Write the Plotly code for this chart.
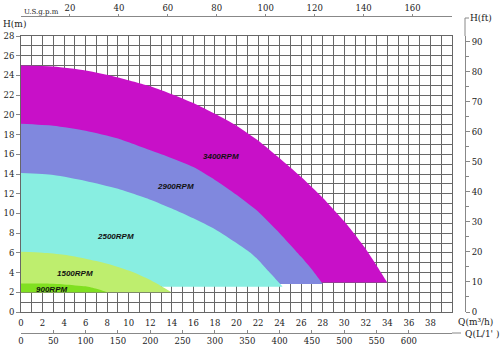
import plotly.graph_objects as go

# Pump performance: head H (m) vs flow Q (m3/h) for each speed
q_3400 = [0, 3, 6, 9, 12, 14, 16, 18, 20, 22, 24, 26, 28, 30, 32, 34]
h_3400 = [25.0, 24.9, 24.5, 23.8, 22.9, 22.1, 21.2, 20.1, 18.9, 17.4, 15.6, 13.7, 11.6, 9.2, 6.4, 3.0]

q_2900 = [0, 3, 6, 9, 12, 14, 16, 18, 20, 22, 24, 26, 27, 28]
h_2900 = [19.1, 18.9, 18.4, 17.6, 16.4, 15.6, 14.7, 13.4, 11.9, 10.2, 8.0, 5.6, 4.3, 2.85]

q_2500 = [0, 3, 6, 9, 12, 14, 16, 18, 20, 21.3, 22, 23, 24.3]
h_2500 = [14.1, 13.9, 13.3, 12.5, 11.4, 10.5, 9.5, 8.4, 7.0, 6.0, 5.3, 4.1, 2.55]

q_1500 = [0, 2, 4, 6, 8, 10, 12, 14]
h_1500 = [6.1, 6.0, 5.8, 5.4, 4.9, 4.2, 3.25, 2.0]

q_900 = [0, 2, 4, 6, 7, 8]
h_900 = [2.9, 2.88, 2.8, 2.6, 2.35, 2.0]

speeds = ["3400RPM", "2900RPM", "2500RPM", "1500RPM", "900RPM"]
base_heads = [3.0, 2.85, 2.55, 2.0, 2.0]
fill_colors = ["#C810C8", "#8088DE", "#88EEE1", "#BEEE6E", "#80E020"]
label_pos = [(18.6, 15.8), (14.3, 12.7), (8.8, 7.7), (5.0, 3.95), (2.8, 2.3)]

q_ticks = list(range(0, 40, 2))
h_ticks = list(range(0, 30, 2))
gpm_ticks = list(range(20, 180, 20))
lpm_ticks = list(range(0, 650, 50))
ft_ticks = list(range(0, 100, 10))

Q_MAX, H_MAX = 40, 28
GPM_PER_M3H = 4.4029
LPM_PER_M3H = 16.6667
FT_PER_M = 3.28084

W, H = 500, 350
def px(x):
    return x / W
def py(y):
    return (H - y) / H

x_dom = [px(21), px(452)]
y_dom = [py(312), py(36)]

grid_col = "#676767"
axis_col = "#888888"
txt_col = "#222222"
tick_font = dict(family="DejaVu Serif", size=8.5, color=txt_col)

fig = go.Figure()

curves = [(q_3400, h_3400), (q_2900, h_2900), (q_2500, h_2500), (q_1500, h_1500), (q_900, h_900)]
for (qs, hs), base, col, name in zip(curves, base_heads, fill_colors, speeds):
    # smooth head curve, then straight return along the minimum head
    fig.add_trace(go.Scatter(
        x=qs + [qs[-1], qs[-1] * 0.5, 0], y=hs + [base, base, base],
        fill="toself", fillcolor=col, mode="lines",
        line=dict(width=0, color=col, shape="spline", smoothing=0.6),
        name=name, hoverinfo="skip", showlegend=False))

for name, (lq, lh) in zip(speeds, label_pos):
    fig.add_annotation(x=lq, y=lh, xref="x", yref="y", text=f"<b><i>{name}</i></b>",
                       showarrow=False, font=dict(family="Liberation Sans", size=8, color="#111"))

# helper traces so the secondary axes are drawn
fig.add_trace(go.Scatter(x=[], y=[], xaxis="x2", yaxis="y", showlegend=False))
fig.add_trace(go.Scatter(x=[], y=[], xaxis="x3", yaxis="y", showlegend=False))
fig.add_trace(go.Scatter(x=[], y=[], xaxis="x", yaxis="y2", showlegend=False))

fig.update_layout(
    width=W, height=H,
    margin=dict(l=0, r=0, t=0, b=0),
    paper_bgcolor="white", plot_bgcolor="white",
    showlegend=False,
    xaxis=dict(domain=x_dom, range=[0, Q_MAX], tickmode="array", tickvals=q_ticks,
               showgrid=True, gridcolor=grid_col, gridwidth=1,
               minor=dict(dtick=1, tick0=0, showgrid=True, gridcolor=grid_col, gridwidth=1),
               showline=True, linecolor=grid_col, mirror=True, zeroline=False,
               ticks="", tickfont=tick_font, ticklabelstandoff=3, automargin=False),
    yaxis=dict(domain=y_dom, range=[0, H_MAX], tickmode="array", tickvals=h_ticks,
               showgrid=True, gridcolor=grid_col, gridwidth=1,
               minor=dict(dtick=1, tick0=0, showgrid=True, gridcolor=grid_col, gridwidth=1),
               showline=True, linecolor=grid_col, mirror=True, zeroline=False,
               ticks="outside", ticklen=4, tickcolor=axis_col, tickfont=tick_font,
               automargin=False),
    xaxis2=dict(overlaying="x", side="top", anchor="free", position=py(16),
                range=[0, Q_MAX * GPM_PER_M3H], tickmode="array", tickvals=gpm_ticks,
                showgrid=False, zeroline=False, showline=True, linecolor=axis_col,
                ticks="outside", ticklen=2, tickcolor=axis_col, tickfont=tick_font,
                automargin=False),
    xaxis3=dict(overlaying="x", side="bottom", anchor="free", position=py(333),
                range=[0, Q_MAX * LPM_PER_M3H], tickmode="array", tickvals=lpm_ticks,
                showgrid=False, zeroline=False, showline=True, linecolor=axis_col,
                ticks="inside", ticklen=3, tickcolor=axis_col, tickfont=tick_font,
                automargin=False),
    yaxis2=dict(overlaying="y", side="right", anchor="free", position=px(465),
                range=[0, H_MAX * FT_PER_M], tickmode="array", tickvals=ft_ticks,
                showgrid=False, zeroline=False, showline=True, linecolor=axis_col,
                ticks="outside", ticklen=4, tickcolor=axis_col,
                minor=dict(dtick=5, ticks="outside", ticklen=3, tickcolor=axis_col),
                tickfont=tick_font, automargin=False),
)

# extension of the feet scale up to its title, with end bracket
fig.add_shape(type="line", xref="paper", yref="paper", x0=px(465), x1=px(465),
              y0=py(36), y1=py(18), line=dict(color=axis_col, width=1))
fig.add_shape(type="line", xref="paper", yref="paper", x0=px(465), x1=px(469),
              y0=py(18), y1=py(18), line=dict(color=axis_col, width=1))
# lead-in line to the L/min title
fig.add_shape(type="line", xref="paper", yref="paper", x0=px(452), x1=px(461),
              y0=py(333), y1=py(333), line=dict(color=axis_col, width=1))

axis_titles = [
    ("H(m)", 1, 24, 9),
    ("U.S.g.p.m", 22, 12, 7),
    ("H(ft)", 468, 18, 9),
    ("Q(m³/h)", 456, 322, 9),
    ("Q(L/1' )", 463, 334, 9),
]
for text, tx, ty, fs in axis_titles:
    fig.add_annotation(x=px(tx), y=py(ty), xref="paper", yref="paper", text=text,
                       showarrow=False, xanchor="left", yanchor="middle",
                       font=dict(family="DejaVu Serif", size=fs, color=txt_col))

fig.write_html("out.html")
